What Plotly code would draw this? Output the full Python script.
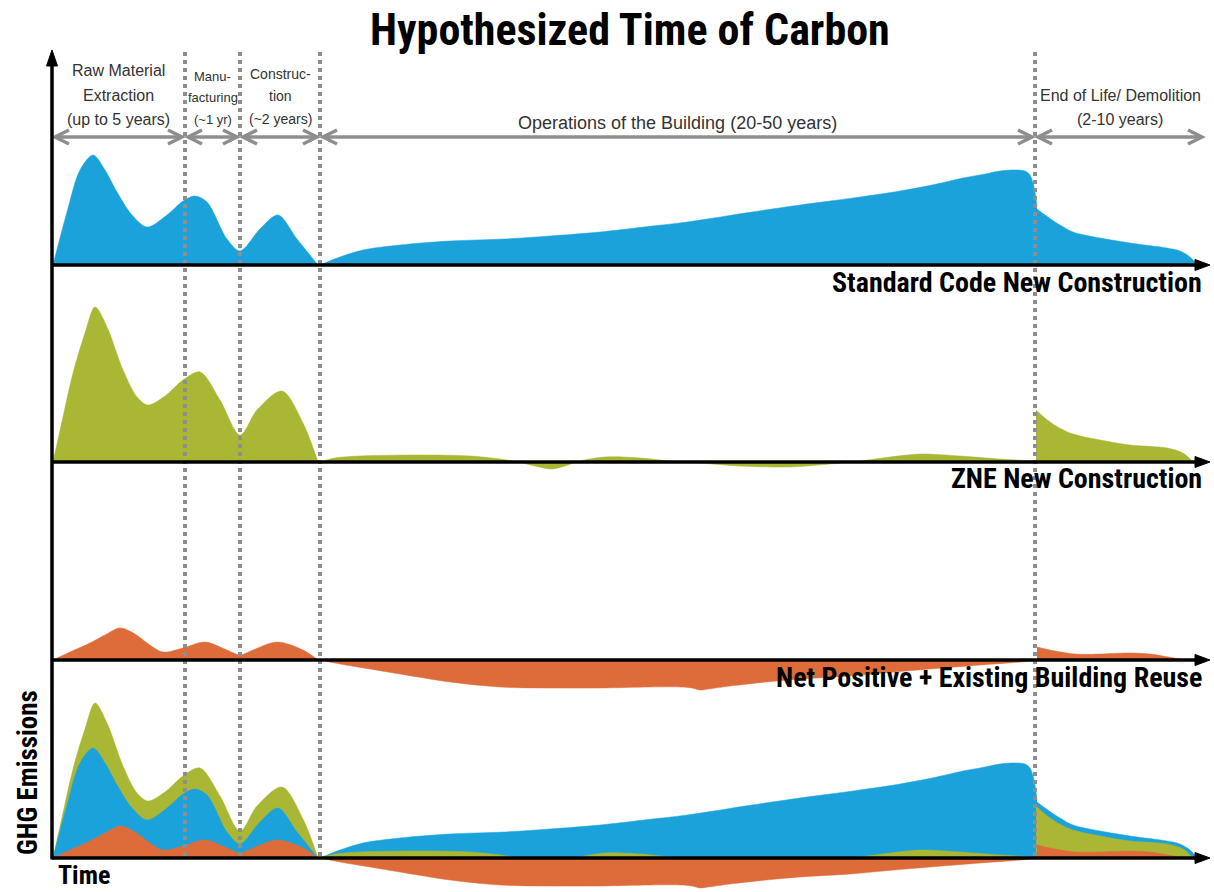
import plotly.graph_objects as go

# ------------------------------------------------------------------ data
# Time runs in arbitrary units from the axis origin; emissions in arbitrary units.
PHASE_BOUNDS = [0, 133, 188, 268, 983, 1153]
PHASE_LABELS = [
    ["Raw Material", "Extraction", "(up to 5 years)"],
    ["Manu-", "facturing", "(~1 yr)"],
    ["Construc-", "tion", "(~2 years)"],
    ["Operations of the Building (20-50 years)"],
    ["End of Life/ Demolition", "(2-10 years)"],
]
PANEL_NAMES = [
    "Standard Code New Construction",
    "ZNE New Construction",
    "Net Positive + Existing Building Reuse",
]

# Standard code new construction (blue)
STD_T_EMB = [1, 15, 28, 41, 53, 65, 80, 95, 115, 131, 143, 155, 175, 188, 208, 226, 245, 266]
STD_V_EMB = [0, 53, 95, 110, 95, 73, 50, 38, 50, 64, 69, 63, 26, 14, 36, 50, 26, 0]
STD_T_OPS = [268, 288, 311, 348, 398, 452, 498, 548, 592, 635, 700, 748, 808, 848, 880, 911, 933, 948, 963, 973, 978, 982, 985]
STD_V_OPS = [0, 8, 15, 20, 24, 26, 29, 33, 38, 43, 53, 60, 68, 74, 80, 87, 91, 94, 95, 94, 90, 78, 58]
STD_T_EOL = [985, 993, 1008, 1021, 1048, 1078, 1115, 1128, 1138, 1145]
STD_V_EOL = [56, 50, 40, 33, 27, 22, 17, 14, 8, 0]

# ZNE new construction (green)
ZNE_T_EMB = [1, 11, 21, 33, 43, 55, 71, 85, 96, 113, 131, 148, 168, 188, 205, 230, 251, 266]
ZNE_V_EMB = [0, 45, 89, 129, 155, 135, 92, 65, 57, 66, 82, 90, 62, 27, 52, 71, 39, 0]
ZNE_T_OPS = [268, 283, 308, 368, 418, 448, 466, 483, 500, 516, 528, 553, 588, 618, 648, 688, 738, 778, 808, 838, 868, 908, 948, 978, 983]
ZNE_V_OPS = [0, 4, 6, 7, 6, 3, 0, -4, -7, -3, 1, 5, 4, 1, -1, -4, -5, -2, 1, 5, 8, 6, 3, 1, 0]
ZNE_T_EOL = [984, 998, 1018, 1048, 1078, 1115, 1131, 1141]
ZNE_V_EOL = [52, 40, 29, 22, 17, 14, 9, 0]

# Net positive + existing building reuse (orange)
NP_T_EMB = [1, 18, 38, 53, 68, 83, 95, 111, 131, 153, 175, 188, 201, 225, 251, 266]
NP_V_EMB = [0, 8, 17, 25, 32, 26, 17, 8, 12, 18, 10, 5, 10, 18, 10, 0]
NP_T_OPS = [268, 288, 318, 348, 398, 448, 498, 548, 598, 628, 640, 648, 656, 678, 714, 748, 798, 831, 878, 928, 968, 984]
NP_V_OPS = [0, -4, -9, -14, -22, -27, -28, -28, -27, -27, -28, -30, -29, -26, -22, -19, -16, -13, -9, -5, -2, 0]
NP_T_EOL = [985, 998, 1023, 1048, 1076, 1098, 1122, 1133]
NP_V_EOL = [13, 10, 6, 6, 7, 6, 2, 0]

# ------------------------------------------------------------------ style / layout
W, H = 1214, 892
ORIGIN_PX = 52
BASE_PX = [265, 462, 660, 858]
BLUE, GREEN, ORANGE = "#1CA2DB", "#A9B734", "#DE6C3A"
GRAY = "#8E8E8E"
NARROW = "Liberation Sans Narrow, Arial Narrow, Roboto Condensed, Liberation Sans, sans-serif"
REG = "Liberation Sans, Arial, sans-serif"


def yp(py):
    return (H - py) / H


def xp(px):
    return px / W


std = [(STD_T_EMB, STD_V_EMB), (STD_T_OPS, STD_V_OPS), (STD_T_EOL, STD_V_EOL)]
zne = [(ZNE_T_EMB, ZNE_V_EMB), (ZNE_T_OPS, ZNE_V_OPS), (ZNE_T_EOL, ZNE_V_EOL)]
npo = [(NP_T_EMB, NP_V_EMB), (NP_T_OPS, NP_V_OPS), (NP_T_EOL, NP_V_EOL)]

fig = go.Figure()


def add_area(seg, color, axis):
    t, v = seg
    fig.add_trace(go.Scatter(
        x=t, y=v, yaxis=axis, mode="lines", fill="tozeroy", fillcolor=color,
        line=dict(color=color, width=0.5, shape="spline", smoothing=0.9),
        hoverinfo="skip", showlegend=False))


for seg in std:
    add_area(seg, BLUE, "y")
for seg in zne:
    add_area(seg, GREEN, "y2")
for seg in npo:
    add_area(seg, ORANGE, "y3")

# combined panel: embodied phase green behind blue; later phases blue behind green
add_area(zne[0], GREEN, "y4")
add_area(std[0], BLUE, "y4")
add_area(npo[0], ORANGE, "y4")
for k in (1, 2):
    add_area(std[k], BLUE, "y4")
    add_area(zne[k], GREEN, "y4")
    add_area(npo[k], ORANGE, "y4")

shapes = []
# dotted phase dividers
for b in PHASE_BOUNDS[1:5]:
    shapes.append(dict(type="line", xref="x", yref="paper", x0=b, x1=b,
                       y0=yp(BASE_PX[3] - 2), y1=yp(48),
                       line=dict(color=GRAY, width=4, dash="4px,4px"), layer="above"))

# gray double-headed phase arrows
ARROW_PY = 137
for i in range(len(PHASE_BOUNDS) - 1):
    a = PHASE_BOUNDS[i] + 3
    b = PHASE_BOUNDS[i + 1] - 3
    shapes.append(dict(type="line", xref="x", yref="paper", x0=a, x1=b,
                       y0=yp(ARROW_PY), y1=yp(ARROW_PY),
                       line=dict(color=GRAY, width=3.5), layer="above"))
    for tip, d in ((a, 14), (b, -14)):
        path = (f"M {tip + d},{yp(ARROW_PY - 7)} L {tip},{yp(ARROW_PY)} "
                f"L {tip + d},{yp(ARROW_PY + 7)}")
        shapes.append(dict(type="path", xref="x", yref="paper", path=path,
                           line=dict(color=GRAY, width=3.5), layer="above"))

# black axis lines
shapes.append(dict(type="line", xref="x", yref="paper", x0=0, x1=0,
                   y0=yp(BASE_PX[3] + 1.5), y1=yp(62),
                   line=dict(color="black", width=3.5), layer="above"))
shapes.append(dict(type="path", xref="x", yref="paper",
                   path=f"M -5.5,{yp(66)} L 0,{yp(50)} L 5.5,{yp(66)} Z",
                   fillcolor="black", line=dict(color="black", width=1), layer="above"))
END_T = PHASE_BOUNDS[-1]
for bp in BASE_PX:
    shapes.append(dict(type="line", xref="x", yref="paper", x0=0, x1=END_T - 6,
                       y0=yp(bp), y1=yp(bp),
                       line=dict(color="black", width=3.5), layer="above"))
    shapes.append(dict(type="path", xref="x", yref="paper",
                       path=(f"M {END_T - 10},{yp(bp - 5.5)} L {END_T + 5},{yp(bp)} "
                             f"L {END_T - 10},{yp(bp + 5.5)} Z"),
                       fillcolor="black", line=dict(color="black", width=1), layer="above"))

annotations = []
LABEL_Y = [[71, 95, 119], [76, 97, 119], [74, 96, 119], [123], [96, 119]]
LABEL_SIZE = [16, 13, 14, 18, 16]
for i, lines in enumerate(PHASE_LABELS):
    mid = (PHASE_BOUNDS[i] + PHASE_BOUNDS[i + 1]) / 2
    for line, py in zip(lines, LABEL_Y[i]):
        annotations.append(dict(x=mid, y=yp(py), xref="x", yref="paper", text=line,
                                showarrow=False, xanchor="center", yanchor="middle",
                                font=dict(family=REG, size=LABEL_SIZE[i], color="#333333")))

for name, py in zip(PANEL_NAMES, [282, 478, 677]):
    annotations.append(dict(x=xp(1204), y=yp(py), xref="paper", yref="paper",
                            text=f"<b>{name}</b>", showarrow=False,
                            xanchor="right", yanchor="middle",
                            font=dict(family=NARROW, size=28, color="black")))

annotations.append(dict(x=xp(630), y=yp(30), xref="paper", yref="paper",
                        text="<b>Hypothesized Time of Carbon</b>", showarrow=False,
                        xanchor="center", yanchor="middle",
                        font=dict(family=NARROW, size=44, color="black")))
annotations.append(dict(x=xp(28), y=yp(773), xref="paper", yref="paper",
                        text="<b>GHG Emissions</b>", showarrow=False, textangle=-90,
                        xanchor="center", yanchor="middle",
                        font=dict(family=NARROW, size=27, color="black")))
annotations.append(dict(x=xp(84), y=yp(875), xref="paper", yref="paper",
                        text="<b>Time</b>", showarrow=False,
                        xanchor="center", yanchor="middle",
                        font=dict(family=NARROW, size=26, color="black")))

hidden = dict(visible=False, showgrid=False, zeroline=False, fixedrange=True)
layout_axes = {}
names = ["yaxis", "yaxis2", "yaxis3", "yaxis4"]
for k, (nm, bp) in enumerate(zip(names, BASE_PX)):
    ax = dict(hidden, range=[-(H - bp), bp], domain=[0, 1])
    if k > 0:
        ax["overlaying"] = "y"
    layout_axes[nm] = ax

fig.update_layout(
    width=W, height=H,
    margin=dict(l=0, r=0, t=0, b=0),
    paper_bgcolor="white", plot_bgcolor="white",
    xaxis=dict(hidden, range=[-ORIGIN_PX, W - ORIGIN_PX], domain=[0, 1]),
    shapes=shapes, annotations=annotations,
    showlegend=False,
    **layout_axes,
)

fig.write_html(
    "out.html",
    config={"displayModeBar": False},
    post_script="document.body.style.margin='0';document.body.style.overflow='hidden';",
)
